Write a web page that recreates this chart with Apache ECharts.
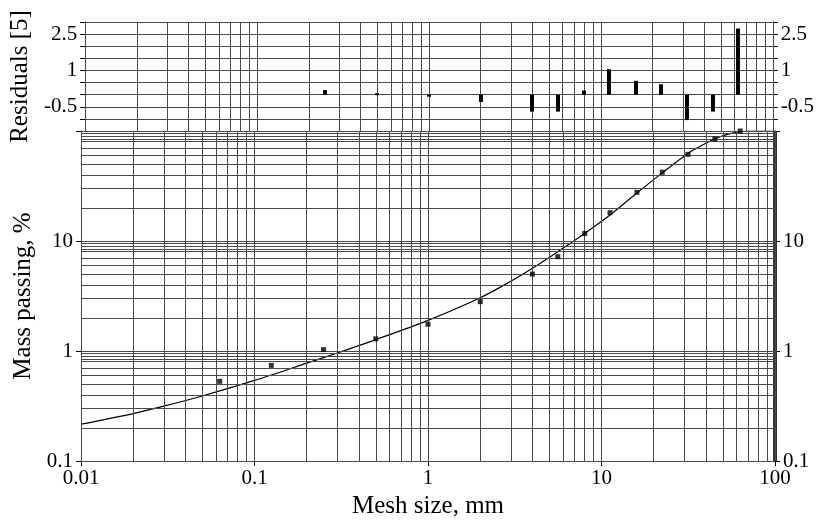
<!DOCTYPE html>
<html>
<head>
<meta charset="utf-8">
<script src="https://cdn.jsdelivr.net/npm/echarts@6/dist/echarts.min.js"></script>
<style>
  html, body { margin: 0; padding: 0; background: #fff; }
  #chart { width: 817px; height: 524px; }
</style>
</head>
<body>
<div id="chart"></div>
<script>
// sieve sizes, mm
const meshSizes = [0.063, 0.125, 0.25, 0.5, 1, 2, 4, 5.6, 8, 11.2, 16, 22.4, 31.5, 45, 63];
// measured mass passing, %
const massPassing = [0.53, 0.74, 1.03, 1.29, 1.75, 2.81, 5.0, 7.2, 11.7, 18.1, 27.7, 42.2, 61.4, 84.6, 100];
// residuals (scaled [5])
const residuals = [0.19, 0.06, -0.08, -0.3, -0.7, -0.7, 0.17, 1.05, 0.57, 0.43, -1.05, -0.7, 2.73];

// residual points start at 0.25 mm
const residualSizes = [0.25, 0.5, 1, 2, 4, 5.6, 8, 11.2, 16, 22.4, 31.5, 45, 63];

// fitted curve
const fitX = [0.01, 0.02, 0.03, 0.05, 0.1, 0.2, 0.3, 0.5, 1, 2, 3, 4, 5.6, 8, 11.2, 16, 22.4, 31.5, 40, 45, 55, 63, 70, 100];
const fitY = [0.216, 0.27, 0.315, 0.39, 0.54, 0.775, 0.96, 1.27, 1.9, 3.05, 4.3, 5.65, 8.0, 11.7, 17.2, 27.3, 41.6, 62.5, 77.5, 85, 94.5, 98.5, 100, 100];

// drop of the fitted curve at the top size
const edgeX = [100, 100];
const edgeY = [100, 0.1];

const xLabels = [0.01, 0.1, 1, 10, 100];
const massLabels = [0.1, 1, 10];
const residualLabels = [2.5, 1, -0.5];

// grid line multipliers per decade
const xGridSteps = [1, 2, 3, 4, 5, 6, 7, 8, 9];
const yGridSteps = [1, 2, 3, 4, 5, 6, 7, 8, 8.5, 9, 9.5];

const xDecades = [0.01, 0.1, 1, 10];
const yDecades = [0.1, 1, 10];

const xGrid = [];
xDecades.forEach(d => xGridSteps.forEach(s => xGrid.push(+(d * s).toPrecision(4))));
xGrid.push(100);
const yGrid = [];
yDecades.forEach(d => yGridSteps.forEach(s => yGrid.push(+(d * s).toPrecision(4))));
yGrid.push(100);

const font = 'Liberation Serif';
const gridColor = '#4a4a4a';

const chart = echarts.init(document.getElementById('chart'));

const gridLine = { color: gridColor, width: 1, type: 'solid' };

const logLabel = list => v => {
  const m = list.find(t => Math.abs(Math.log10(t) - Math.log10(v)) < 1e-6);
  return m === undefined ? '' : String(m);
};
const residualLabel = v => residualLabels.some(t => Math.abs(t - v) < 1e-9) ? String(v) : '';

const option = {
  animation: false,
  backgroundColor: '#fff',
  textStyle: { fontFamily: font, color: '#000' },
  grid: [
    { left: 81, right: 42, top: 22, height: 109 },
    { left: 81, right: 42, top: 131, height: 330 }
  ],
  xAxis: [
    {
      gridIndex: 0, type: 'log', logBase: 10, min: 0.01, max: 100,
      show: false
    },
    {
      gridIndex: 1, type: 'log', logBase: 10, min: 0.01, max: 100,
      name: 'Mesh size, mm', nameLocation: 'middle', nameGap: 33,
      nameTextStyle: { fontFamily: font, fontSize: 25, color: '#000' },
      axisLine: { lineStyle: { color: '#000', width: 1 } },
      axisTick: { show: true, length: 5, lineStyle: { color: '#000' } },
      axisLabel: { fontFamily: font, fontSize: 21, color: '#000', margin: 7, formatter: logLabel(xLabels) },
      splitLine: { show: false }
    }
  ],
  yAxis: [
    {
      gridIndex: 0, type: 'value', min: -1.5, max: 3, interval: 0.5,
      name: 'Residuals [5]', nameLocation: 'middle', nameGap: 41,
      nameTextStyle: { fontFamily: font, fontSize: 25, color: '#000' },
      axisLine: { show: true, lineStyle: { color: '#000' } },
      axisTick: { show: true, length: 5, lineStyle: { color: '#000' } },
      axisLabel: { fontFamily: font, fontSize: 21, color: '#000', margin: 8, formatter: residualLabel },
      splitLine: { show: true, lineStyle: gridLine }
    },
    {
      gridIndex: 0, type: 'value', min: -1.5, max: 3, interval: 0.5, position: 'right',
      axisLine: { show: true, lineStyle: { color: '#000' } },
      axisTick: { show: true, length: 5, lineStyle: { color: '#000' } },
      axisLabel: { fontFamily: font, fontSize: 21, color: '#000', margin: 8, formatter: residualLabel },
      splitLine: { show: false }
    },
    {
      gridIndex: 1, type: 'log', logBase: 10, min: 0.1, max: 100,
      name: 'Mass passing, %', nameLocation: 'middle', nameGap: 36,
      nameTextStyle: { fontFamily: font, fontSize: 25, color: '#000' },
      axisLine: { show: true, lineStyle: { color: '#000' } },
      axisTick: { show: true, length: 5, lineStyle: { color: '#000' } },
      axisLabel: { fontFamily: font, fontSize: 21, color: '#000', margin: 8, formatter: logLabel(massLabels) },
      splitLine: { show: false }
    },
    {
      gridIndex: 1, type: 'log', logBase: 10, min: 0.1, max: 100, position: 'right',
      axisLine: { show: true, lineStyle: { color: '#000' } },
      axisTick: { show: true, length: 5, lineStyle: { color: '#000' } },
      axisLabel: { fontFamily: font, fontSize: 21, color: '#000', margin: 8, formatter: logLabel(massLabels) },
      splitLine: { show: false }
    }
  ],
  series: [
    {
      // residual bars
      type: 'custom',
      xAxisIndex: 0, yAxisIndex: 0,
      data: residualSizes.map((x, i) => [x, residuals[i]]),
      renderItem: (params, api) => {
        const p0 = api.coord([api.value(0), 0]);
        const p1 = api.coord([api.value(0), api.value(1)]);
        const top = Math.min(p0[1], p1[1]);
        const h = Math.max(Math.abs(p1[1] - p0[1]), 2);
        return {
          type: 'rect',
          shape: { x: Math.round(p0[0]) - 2, y: top, width: 4, height: h },
          style: { fill: '#000' }
        };
      },
      markLine: {
        silent: true, symbol: ['none', 'none'], label: { show: false },
        lineStyle: gridLine,
        data: xGrid.map(v => ({ xAxis: v }))
      },
      z: 5
    },
    {
      name: 'fit',
      type: 'line',
      xAxisIndex: 1, yAxisIndex: 2,
      data: fitX.map((x, i) => [x, fitY[i]]),
      showSymbol: false,
      smooth: 0.3,
      lineStyle: { color: '#000', width: 1.2 },
      markLine: {
        silent: true, symbol: ['none', 'none'], label: { show: false },
        lineStyle: gridLine,
        data: xGrid.map(v => ({ xAxis: v })).concat(yGrid.map(v => ({ yAxis: v })))
      },
      z: 3
    },
    {
      name: 'edge',
      type: 'line',
      xAxisIndex: 1, yAxisIndex: 2,
      data: edgeX.map((x, i) => [x, edgeY[i]]),
      showSymbol: false,
      lineStyle: { color: '#333', width: 4 },
      z: 4
    },
    {
      name: 'measured',
      type: 'scatter',
      xAxisIndex: 1, yAxisIndex: 2,
      data: meshSizes.map((x, i) => [x, massPassing[i]]),
      symbol: 'rect',
      symbolSize: 5,
      itemStyle: { color: '#000' },
      z: 6
    }
  ]
};

chart.setOption(option);
</script>
</body>
</html>
